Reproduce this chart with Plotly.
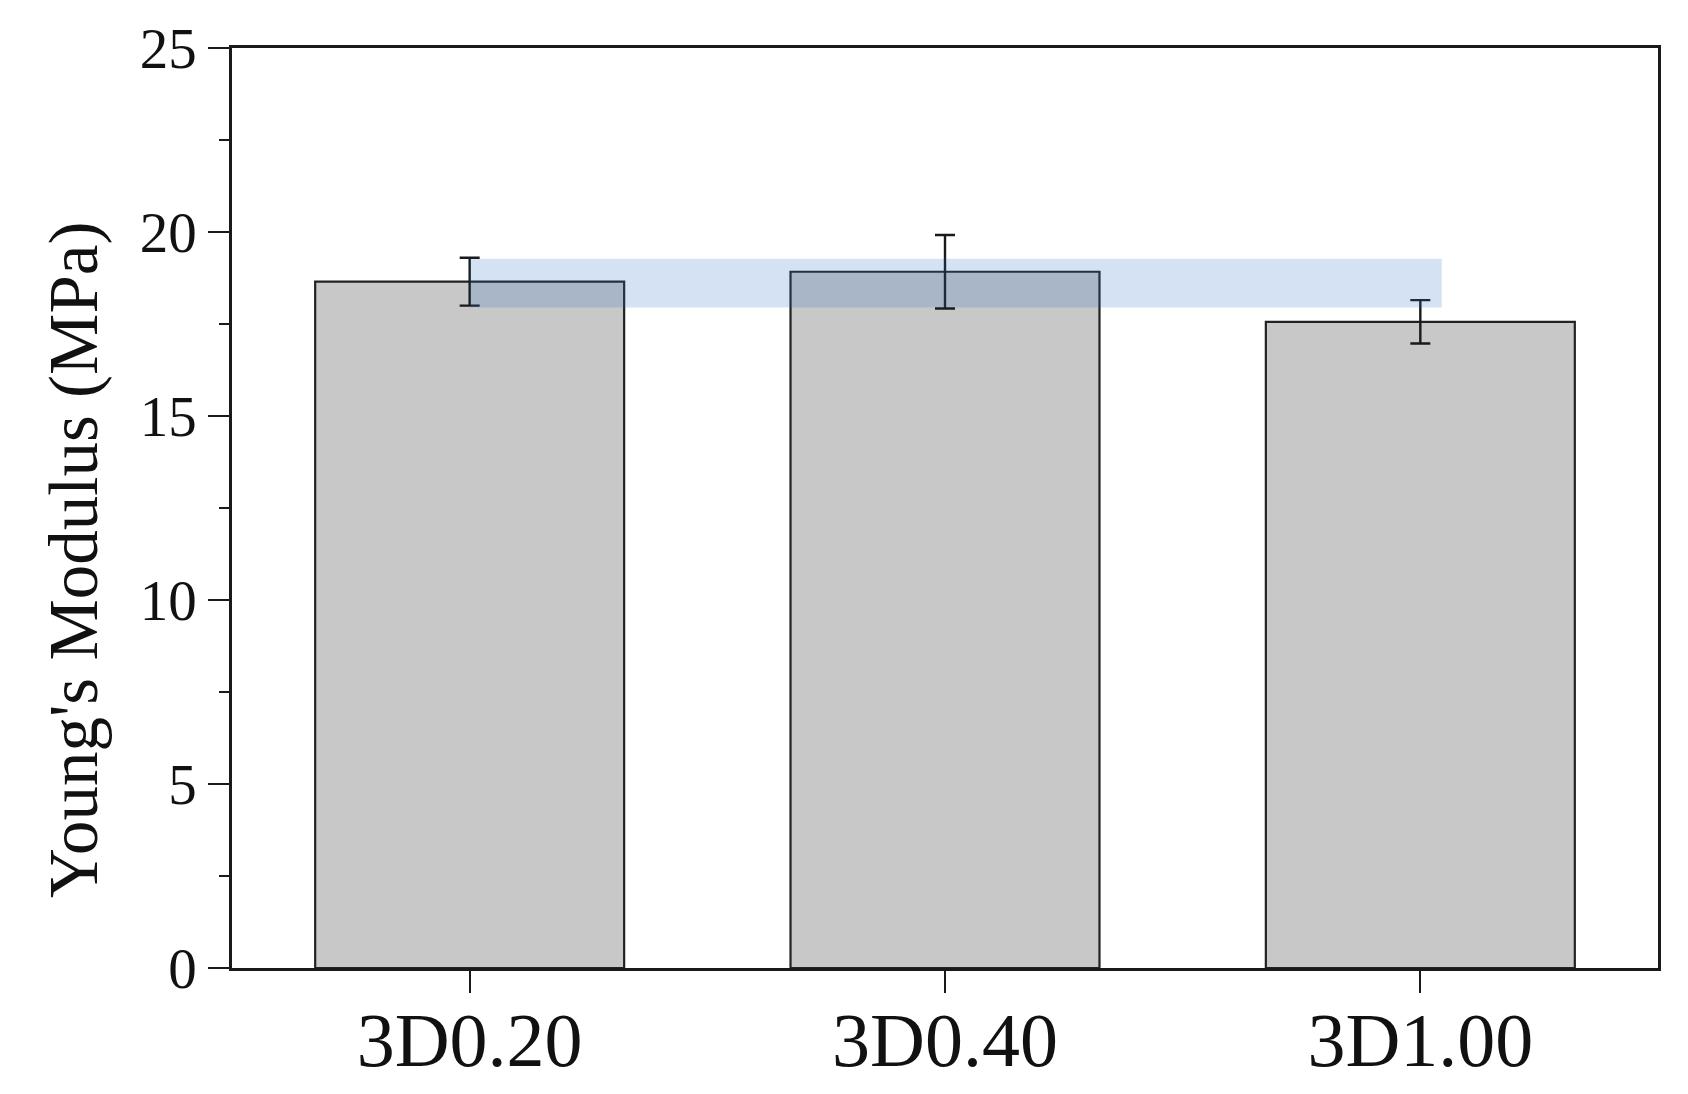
import plotly.graph_objects as go

# Data
categories = ["3D0.20", "3D0.40", "3D1.00"]
modulus_mpa = [18.65, 18.92, 17.56]
modulus_err = [0.65, 1.00, 0.59]
y_tick_vals = [0, 5, 10, 15, 20, 25]
y_tick_text = ["0", "5", "10", "15", "20", "25"]

# highlighted band (category index span, value span)
band_x = [0.0, 2.045]
band_y = [17.95, 19.27]

FONT = "Liberation Serif, Times New Roman, serif"
AX = "#1a1a1a"

fig = go.Figure()
fig.add_trace(go.Bar(
    x=categories,
    y=modulus_mpa,
    width=0.65,
    marker=dict(color="#c8c8c8", line=dict(color="#222222", width=2.2)),
    error_y=dict(type="data", array=modulus_err, visible=True,
                 color="#1a1a1a", thickness=2.4, width=10),
    showlegend=False,
))

fig.add_shape(type="rect", xref="x", yref="y",
              x0=band_x[0], x1=band_x[1], y0=band_y[0], y1=band_y[1],
              fillcolor="rgba(45,110,195,0.2)", line=dict(width=0),
              layer="above")

fig.update_layout(
    width=1688, height=1094, autosize=False,
    margin=dict(l=232, r=30, t=48, b=126),
    paper_bgcolor="white", plot_bgcolor="white",
    font=dict(family=FONT, color="#111111"),
    xaxis=dict(
        range=[-0.5, 2.5], type="category", automargin=False,
        showline=True, linecolor=AX, linewidth=2.5, mirror=True,
        ticks="outside", ticklen=22, tickwidth=2, tickcolor=AX,
        tickfont=dict(size=76, family=FONT, color="#111111"),
        ticklabelstandoff=-18,
        showgrid=False, zeroline=False,
    ),
    yaxis=dict(
        range=[0, 25], automargin=False,
        tickvals=y_tick_vals, ticktext=y_tick_text,
        showline=True, linecolor=AX, linewidth=2.5, mirror=True,
        ticks="outside", ticklen=21, tickwidth=2, tickcolor=AX,
        tickfont=dict(size=57, family=FONT, color="#111111"),
        minor=dict(dtick=2.5, ticks="outside", ticklen=10, tickwidth=2, tickcolor=AX),
        showgrid=False, zeroline=False,
    ),
    annotations=[dict(
        text="Young's Modulus (MPa)", textangle=-90,
        xref="paper", yref="paper", x=0, y=0.5,
        xanchor="center", yanchor="middle", xshift=-158, yshift=-52,
        showarrow=False,
        font=dict(size=69, family=FONT, color="#111111"),
    )],
)

fig.write_html("out.html",
               config={"displayModeBar": False},
               post_script="document.body.style.margin='0';document.body.style.overflow='hidden';")
